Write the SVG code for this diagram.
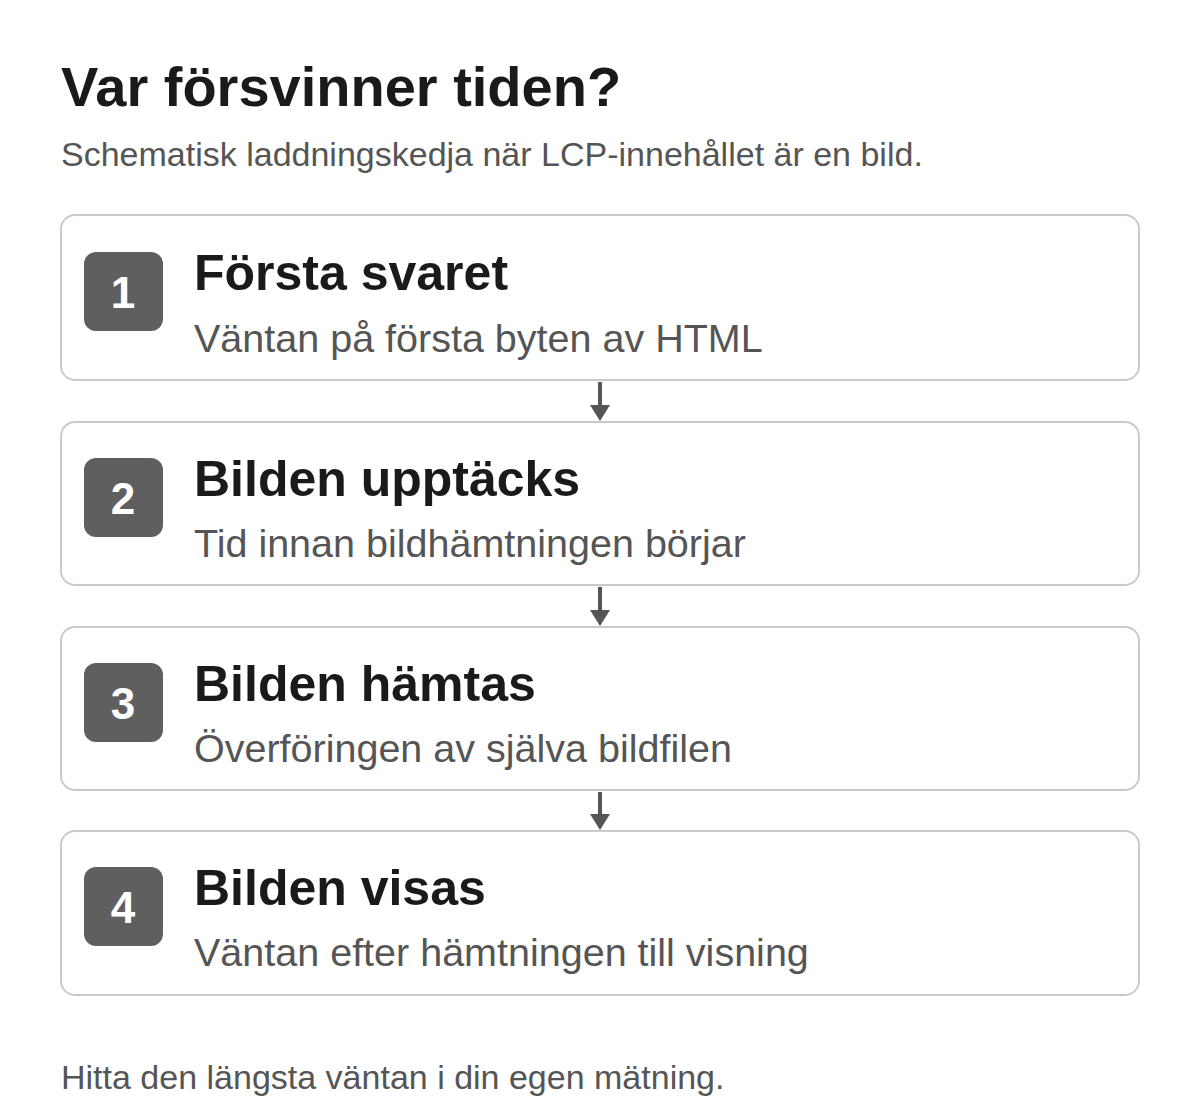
<svg xmlns="http://www.w3.org/2000/svg" width="1200" height="1120" viewBox="0 0 1200 1120">
<style>
text{font-family:"Liberation Sans",Arial,sans-serif}
.h1{font-size:56px;font-weight:bold;fill:#1a1a1a}
.sub{font-size:34px;fill:#555}
.box{fill:#fff;stroke:#cacaca;stroke-width:2}
.badge{fill:#5f5f5f}
.num{font-size:44px;font-weight:bold;fill:#fff;text-anchor:middle}
.t{font-size:50px;font-weight:bold;fill:#1a1a1a}
.d{font-size:39.5px;fill:#555}
.conn line{stroke:#555;stroke-width:4}
</style>
<defs>
<marker id="ah" markerWidth="16" markerHeight="20" refX="0" refY="10" orient="auto" markerUnits="userSpaceOnUse" viewBox="0 0 16 20">
<path d="M0,0 L16,10 L0,20 Z" fill="#555"/>
</marker>
</defs>
<rect width="1200" height="1120" fill="#fff"/>
<text class="h1" x="61" y="106">Var försvinner tiden?</text>
<text class="sub" x="61" y="166">Schematisk laddningskedja när LCP-innehållet är en bild.</text>

<g id="step1">
<rect class="box" x="61" y="215" width="1078" height="165" rx="14"/>
<rect class="badge" x="84" y="252" width="79" height="79" rx="12"/>
<text class="num" x="123" y="308">1</text>
<text class="t" x="194" y="290">Första svaret</text>
<text class="d" x="194" y="352">Väntan på första byten av HTML</text>
</g>
<g id="step2">
<rect class="box" x="61" y="422" width="1078" height="163" rx="14"/>
<rect class="badge" x="84" y="458" width="79" height="79" rx="12"/>
<text class="num" x="123" y="514">2</text>
<text class="t" x="194" y="496">Bilden upptäcks</text>
<text class="d" x="194" y="557">Tid innan bildhämtningen börjar</text>
</g>
<g id="step3">
<rect class="box" x="61" y="627" width="1078" height="163" rx="14"/>
<rect class="badge" x="84" y="663" width="79" height="79" rx="12"/>
<text class="num" x="123" y="719">3</text>
<text class="t" x="194" y="701">Bilden hämtas</text>
<text class="d" x="194" y="762">Överföringen av själva bildfilen</text>
</g>
<g id="step4">
<rect class="box" x="61" y="831" width="1078" height="164" rx="14"/>
<rect class="badge" x="84" y="867" width="79" height="79" rx="12"/>
<text class="num" x="123" y="923">4</text>
<text class="t" x="194" y="905">Bilden visas</text>
<text class="d" x="194" y="966">Väntan efter hämtningen till visning</text>
</g>

<g id="connectors" class="conn">
<line x1="600" y1="382" x2="600" y2="405" marker-end="url(#ah)"/>
<line x1="600" y1="587" x2="600" y2="610" marker-end="url(#ah)"/>
<line x1="600" y1="792" x2="600" y2="814" marker-end="url(#ah)"/>
</g>

<text class="sub" x="61" y="1089">Hitta den längsta väntan i din egen mätning.</text>
</svg>
